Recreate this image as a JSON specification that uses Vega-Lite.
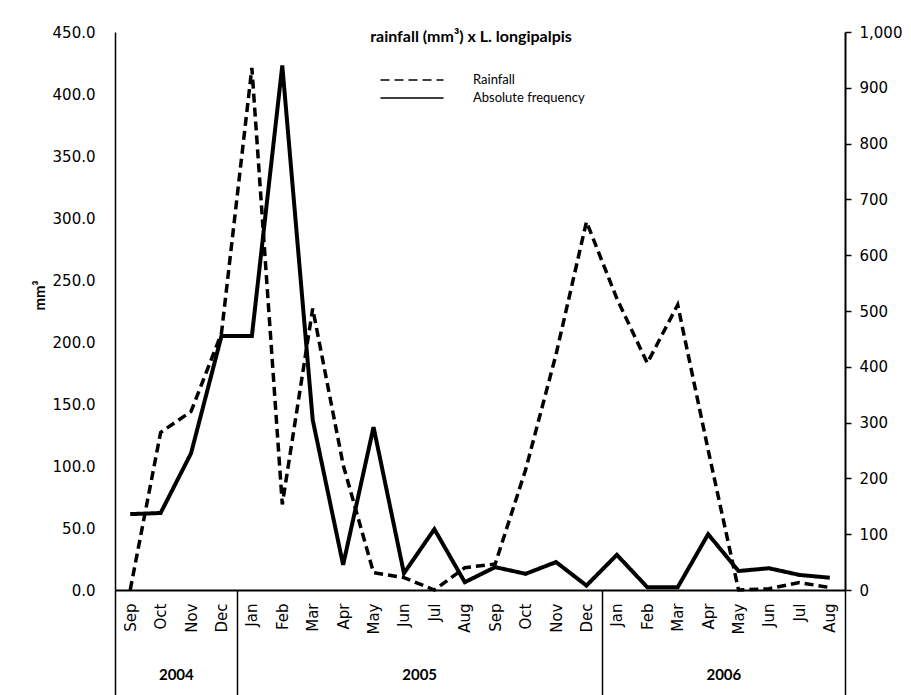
{
  "$schema": "https://vega.github.io/schema/vega-lite/v6.json",
  "width": 730,
  "height": 558,
  "autosize": "none",
  "padding": {"left": 115, "top": 32, "right": 66, "bottom": 105},
  "background": "white",
  "title": {"text": "rainfall (mm³) x L. longipalpis", "font": "Lato", "fontSize": 16, "fontWeight": "bold", "anchor": "middle", "frame": "group", "offset": -20, "dx": -9, "color": "black"},
  "datasets": {
    "monthly": [
      {"period": "Sep 2004", "rainfall": 0, "freq": 136},
      {"period": "Oct 2004", "rainfall": 127, "freq": 138},
      {"period": "Nov 2004", "rainfall": 144, "freq": 245},
      {"period": "Dec 2004", "rainfall": 207, "freq": 455},
      {"period": "Jan 2005", "rainfall": 421, "freq": 455},
      {"period": "Feb 2005", "rainfall": 69, "freq": 940},
      {"period": "Mar 2005", "rainfall": 227, "freq": 305},
      {"period": "Apr 2005", "rainfall": 101, "freq": 45},
      {"period": "May 2005", "rainfall": 14, "freq": 292},
      {"period": "Jun 2005", "rainfall": 10, "freq": 30},
      {"period": "Jul 2005", "rainfall": 0, "freq": 109},
      {"period": "Aug 2005", "rainfall": 18, "freq": 14},
      {"period": "Sep 2005", "rainfall": 21, "freq": 41},
      {"period": "Oct 2005", "rainfall": 97, "freq": 29},
      {"period": "Nov 2005", "rainfall": 190, "freq": 50},
      {"period": "Dec 2005", "rainfall": 297, "freq": 8},
      {"period": "Jan 2006", "rainfall": 235, "freq": 63},
      {"period": "Feb 2006", "rainfall": 183, "freq": 5},
      {"period": "Mar 2006", "rainfall": 230, "freq": 5},
      {"period": "Apr 2006", "rainfall": 113, "freq": 100},
      {"period": "May 2006", "rainfall": 0, "freq": 34},
      {"period": "Jun 2006", "rainfall": 1, "freq": 39},
      {"period": "Jul 2006", "rainfall": 6, "freq": 27},
      {"period": "Aug 2006", "rainfall": 2, "freq": 22}
    ],
    "years": [
      {"year": "2004", "start": 0, "mid": 2},
      {"year": "2005", "start": 4, "mid": 10},
      {"year": "2006", "start": 16, "mid": 20},
      {"year": "", "start": 24, "mid": 24}
    ]
  },
  "layer": [
    {
      "data": {"name": "monthly"},
      "mark": {"type": "line", "strokeWidth": 3.5, "color": "black"},
      "encoding": {
        "x": {"field": "period", "type": "ordinal", "sort": null, "scale": {"type": "point", "padding": 0.5},
          "axis": {"orient": "bottom", "title": null, "labelExpr": "split(datum.label, ' ')[0]", "labelAngle": 270, "ticks": false, "tickSize": 0, "labelPadding": 13, "domainWidth": 2, "labelFontSize": 15}},
        "y": {"field": "rainfall", "type": "quantitative", "scale": {"domain": [0, 450], "nice": false},
          "axis": {"orient": "left", "values": [0, 50, 100, 150, 200, 250, 300, 350, 400, 450], "format": ".1f", "ticks": false, "labelPadding": 20, "domainWidth": 1.5, "title": "mm³", "titleFont": "Lato", "titleFontWeight": "bold", "titleFontSize": 15, "titlePadding": 5, "titleY": 263}},
        "strokeDash": {"datum": "Rainfall", "scale": {"domain": ["Rainfall", "Absolute frequency"], "range": [[9, 5], [1, 0]]},
          "legend": {"orient": "none", "legendX": 286, "legendY": 37, "title": null, "symbolType": "M-3.15,0H3.15", "symbolSize": 400, "symbolStrokeWidth": 1.5, "symbolStrokeColor": "black", "symbolFillColor": "transparent", "labelFont": "Lato", "labelFontSize": 13, "labelColor": "black", "labelOffset": 50, "rowPadding": 0, "padding": 0,
            "encode": {"symbols": {"update": {"strokeDash": {"signal": "datum.label == 'Rainfall' ? [3, 3] : [1, 0]"}}}}}}
      }
    },
    {
      "data": {"name": "monthly"},
      "mark": {"type": "line", "strokeWidth": 4, "color": "black"},
      "encoding": {
        "x": {"field": "period", "type": "ordinal", "sort": null, "scale": {"type": "point", "padding": 0.5}, "axis": null},
        "y": {"field": "freq", "type": "quantitative", "scale": {"domain": [0, 1000], "nice": false},
          "axis": {"orient": "right", "values": [0, 100, 200, 300, 400, 500, 600, 700, 800, 900, 1000], "format": ",.0f", "tickSize": 6, "tickWidth": 1.5, "labelPadding": 8, "domainWidth": 2, "title": null, "labelFontSize": 15}},
        "strokeDash": {"datum": "Absolute frequency"}
      }
    },
    {
      "data": {"name": "years"},
      "mark": {"type": "rule", "opacity": 0},
      "encoding": {
        "x": {"field": "start", "type": "quantitative", "scale": {"domain": [0, 24], "nice": false, "zero": false},
          "axis": {"orient": "bottom", "values": [0, 4, 16, 24], "tickSize": 105, "tickWidth": 1.5, "labels": false, "domain": false, "grid": false, "title": null}}
      }
    },
    {
      "data": {"name": "years"},
      "mark": {"type": "rule", "opacity": 0},
      "encoding": {
        "x": {"field": "mid", "type": "quantitative", "scale": {"domain": [0, 24], "nice": false, "zero": false},
          "axis": {"orient": "bottom", "values": [2, 10, 20], "labelExpr": "datum.value == 2 ? '2004' : datum.value == 10 ? '2005' : '2006'", "ticks": false, "tickSize": 0, "domain": false, "grid": false, "labelPadding": 77, "labelFont": "Lato", "labelFontWeight": "bold", "labelFontSize": 15, "labelFlush": false, "title": null}}
      }
    }
  ],
  "resolve": {"scale": {"x": "independent", "y": "independent"}},
  "config": {
    "view": {"stroke": null},
    "axis": {"labelColor": "black", "domainColor": "black", "tickColor": "black", "labelFont": "DejaVu Sans", "labelFontSize": 15, "grid": false, "titleColor": "black"}
  }
}
